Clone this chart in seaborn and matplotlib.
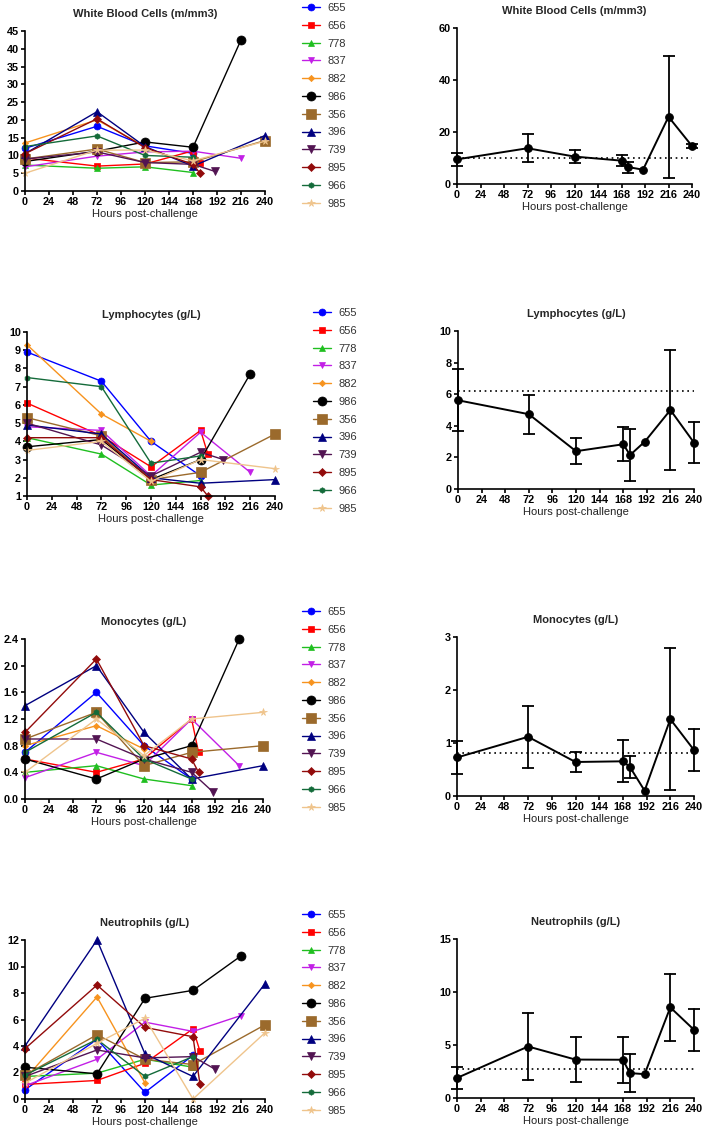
import matplotlib
matplotlib.use("Agg")
import matplotlib.pyplot as plt
import matplotlib.ticker as mticker
import pandas as pd
import seaborn as sns

#### DATA ####
ANIMALS = ['655', '656', '778', '837', '882', '986', '356', '396', '739', '895', '966', '985']

# sampling times (hours post-challenge) for each animal
TIMES = {
    '655': [0, 72, 120, 168],
    '656': [0, 72, 120, 168, 175],
    '778': [0, 72, 120, 168],
    '837': [0, 72, 120, 168, 216],
    '882': [0, 72, 120],
    '986': [0, 72, 120, 168, 216],
    '356': [0, 72, 120, 168, 240],
    '396': [0, 72, 120, 168, 240],
    '739': [0, 72, 120, 168, 190],
    '895': [0, 72, 120, 168, 175],
    '966': [0, 72, 120, 168],
    '985': [0, 72, 120, 168, 240],
}

WBC = {
    '655': [12.0, 18.2, 12.7, 10.6],
    '656': [9.3, 7.0, 7.6, 11.3, 8.0],
    '778': [7.3, 6.4, 6.8, 5.2],
    '837': [6.8, 9.8, 11.0, 11.2, 9.2],
    '882': [13.5, 20.0, 12.5],
    '986': [8.3, 11.2, 13.8, 12.3, 42.5],
    '356': [9.0, 11.8, 8.0, 8.2, 14.2],
    '396': [10.5, 22.3, 12.5, 7.0, 15.6],
    '739': [9.0, 11.0, 8.0, 7.5, 5.5],
    '895': [10.5, 20.3, 12.2, 7.5, 5.0],
    '966': [12.5, 15.5, 10.0, 9.5],
    '985': [5.0, 11.5, 11.5, 8.5, 14.0],
}

LYMPH = {
    '655': [8.9, 7.3, 4.0, 2.1],
    '656': [6.1, 4.3, 2.6, 4.6, 3.3],
    '778': [4.2, 3.3, 1.6, 1.85],
    '837': [4.8, 4.6, 2.1, 4.5, 2.3],
    '882': [9.3, 5.5, 4.0],
    '986': [3.7, 4.1, 1.9, 3.0, 7.7],
    '356': [5.3, 4.3, 1.9, 2.3, 4.4],
    '396': [4.9, 4.4, 2.0, 1.7, 1.9],
    '739': [5.0, 3.8, 2.1, 3.4, 3.0],
    '895': [4.2, 4.2, 1.9, 1.5, 1.0],
    '966': [7.5, 7.0, 2.8, 3.2],
    '985': [3.5, 4.0, 1.8, 3.0, 2.5],
}

MONO = {
    '655': [0.7, 1.6, 0.8, 0.3],
    '656': [0.6, 0.4, 0.6, 1.2, 0.7],
    '778': [0.4, 0.5, 0.3, 0.2],
    '837': [0.32, 0.7, 0.5, 1.2, 0.5],
    '882': [0.8, 1.1, 0.75],
    '986': [0.6, 0.3, 0.6, 0.8, 2.4],
    '356': [0.9, 1.3, 0.5, 0.7, 0.8],
    '396': [1.4, 2.0, 1.0, 0.3, 0.5],
    '739': [0.9, 0.9, 0.6, 0.4, 0.1],
    '895': [1.0, 2.1, 0.8, 0.6, 0.4],
    '966': [0.7, 1.3, 0.6, 0.3],
    '985': [0.4, 1.2, 0.65, 1.2, 1.3],
}

NEUT = {
    '655': [0.7, 4.5, 0.5, 3.3],
    '656': [1.1, 1.4, 2.7, 5.3, 3.6],
    '778': [1.7, 1.95, 3.0, 2.4],
    '837': [1.0, 3.0, 5.8, 5.1, 6.3],
    '882': [1.5, 7.7, 1.2],
    '986': [2.4, 1.9, 7.6, 8.2, 10.8],
    '356': [1.8, 4.85, 3.0, 2.6, 5.6],
    '396': [4.0, 12.0, 3.4, 1.7, 8.7],
    '739': [1.7, 3.7, 3.1, 3.2, 2.25],
    '895': [3.8, 8.6, 5.4, 4.7, 1.1],
    '966': [1.8, 4.5, 1.7, 3.2],
    '985': [1.2, 4.2, 6.1, 0.0, 5.0],
}

# dotted reference level on the mean panels
REF_WBC, REF_LYMPH, REF_MONO, REF_NEUT = 10.0, 6.2, 0.82, 2.74

TITLES = ['White Blood Cells (m/mm3)', 'Lymphocytes (g/L)', 'Monocytes (g/L)', 'Neutrophils (g/L)']
HOURS_TICKS = list(range(0, 241, 24))

#### STYLE ####
COLORS = {'655': '#0000ff', '656': '#ff0000', '778': '#1fbf1f', '837': '#c21fe6',
          '882': '#f7931e', '986': '#000000', '356': '#9b6a2c', '396': '#000080',
          '739': '#521452', '895': '#920b0b', '966': '#146b3a', '985': '#efc48c'}
MARKERS = {'655': 'o', '656': 's', '778': '^', '837': 'v', '882': 'D', '986': 'o',
           '356': 's', '396': '^', '739': 'v', '895': 'D', '966': 'h', '985': '*'}
MSIZE = {'655': 5, '656': 5, '778': 5, '837': 5, '882': 3.2, '986': 6.5,
         '356': 6.5, '396': 5.5, '739': 5.5, '895': 4.2, '966': 4, '985': 5.5}

sns.set_theme(style="ticks")
plt.rcParams['font.family'] = ['Liberation Sans', 'DejaVu Sans']

W, H = 709, 1137
fig = plt.figure(figsize=(W / 100, H / 100), dpi=100)
fig.patch.set_facecolor('white')


def px_axes(l, t, r, b):
    return fig.add_axes([l / W, 1 - b / H, (r - l) / W, (b - t) / H])


def long_form(values):
    rows = []
    for a in ANIMALS:
        for t, v in zip(TIMES[a], values[a]):
            rows.append((a, t, v))
    return pd.DataFrame(rows, columns=['animal', 'hours', 'value'])


def style_axes(ax, title, ylim, yticks, fmt=None):
    ax.set_xlim(0, 240)
    ax.set_xticks(HOURS_TICKS)
    ax.set_ylim(*ylim)
    ax.set_yticks(yticks)
    if fmt:
        ax.yaxis.set_major_formatter(mticker.FormatStrFormatter(fmt))
    sns.despine(ax=ax)
    for s in ['left', 'bottom']:
        ax.spines[s].set_linewidth(1.2)
        ax.spines[s].set_color('black')
    ax.tick_params(width=1.2, length=3, labelsize=7.8, pad=1.5, colors='black')
    for lab in ax.get_xticklabels() + ax.get_yticklabels():
        lab.set_fontweight('bold')
    ax.set_xlabel('Hours post-challenge', fontsize=8, labelpad=1, color='#222222')
    ax.set_ylabel('')
    ax.set_title(title, fontsize=8, fontweight='bold', pad=10)
    ax.set_facecolor('white')


def individual_panel(ax, values, legend_xy):
    df = long_form(values)
    for a in ANIMALS:
        sub = df[df.animal == a]
        sns.lineplot(data=sub, x='hours', y='value', ax=ax, color=COLORS[a],
                     marker=MARKERS[a], markersize=MSIZE[a], markeredgecolor=COLORS[a],
                     markeredgewidth=0.5, linewidth=1.0, label=a, errorbar=None,
                     clip_on=False)
    lx, ly = legend_xy
    leg = ax.legend(loc='upper left', bbox_to_anchor=(lx / W, 1 - ly / H),
                    bbox_transform=fig.transFigure, frameon=False, fontsize=8,
                    handlelength=1.6, handletextpad=0.72, labelspacing=0.70,
                    borderpad=0, borderaxespad=0)
    for txt in leg.get_texts():
        txt.set_color('#333333')


def mean_panel(ax, values, ref):
    df = long_form(values)
    sns.lineplot(data=df, x='hours', y='value', ax=ax, estimator='mean',
                 errorbar='sd', err_style='bars', color='black', marker='o',
                 markersize=5.5, markeredgecolor='black', linewidth=1.4,
                 err_kws={'capsize': 4, 'elinewidth': 1.3, 'capthick': 1.3, 'clip_on': False},
                 clip_on=False, legend=False)
    ax.axhline(ref, color='black', linewidth=1.2, linestyle=(0, (1, 2.2)), zorder=0)


left_boxes = [(25, 31, 265, 191), (27, 332, 275, 496), (25, 639, 263, 799), (25, 940, 265, 1099)]
right_boxes = [(457, 28, 692, 184), (458, 331, 694, 489), (457, 637, 694, 796), (457, 939, 694, 1098)]
legend_pos = [(302, 3), (313, 308), (302, 607), (302, 910)]

metrics = [WBC, LYMPH, MONO, NEUT]
refs = [REF_WBC, REF_LYMPH, REF_MONO, REF_NEUT]
left_y = [((0, 45), range(0, 46, 5), None),
          ((1, 10), range(1, 11), None),
          ((0, 2.4), [0, 0.4, 0.8, 1.2, 1.6, 2.0, 2.4], '%.1f'),
          ((0, 12), range(0, 13, 2), None)]
right_y = [((0, 60), [0, 20, 40, 60], None),
           ((0, 10), [0, 2, 4, 6, 8, 10], None),
           ((0, 3), [0, 1, 2, 3], None),
           ((0, 15), [0, 5, 10, 15], None)]

for i in range(4):
    axl = px_axes(*left_boxes[i])
    individual_panel(axl, metrics[i], legend_pos[i])
    style_axes(axl, TITLES[i], *left_y[i])

    axr = px_axes(*right_boxes[i])
    mean_panel(axr, metrics[i], refs[i])
    style_axes(axr, TITLES[i], *right_y[i])

fig.savefig('out.png', dpi=100, facecolor='white')
